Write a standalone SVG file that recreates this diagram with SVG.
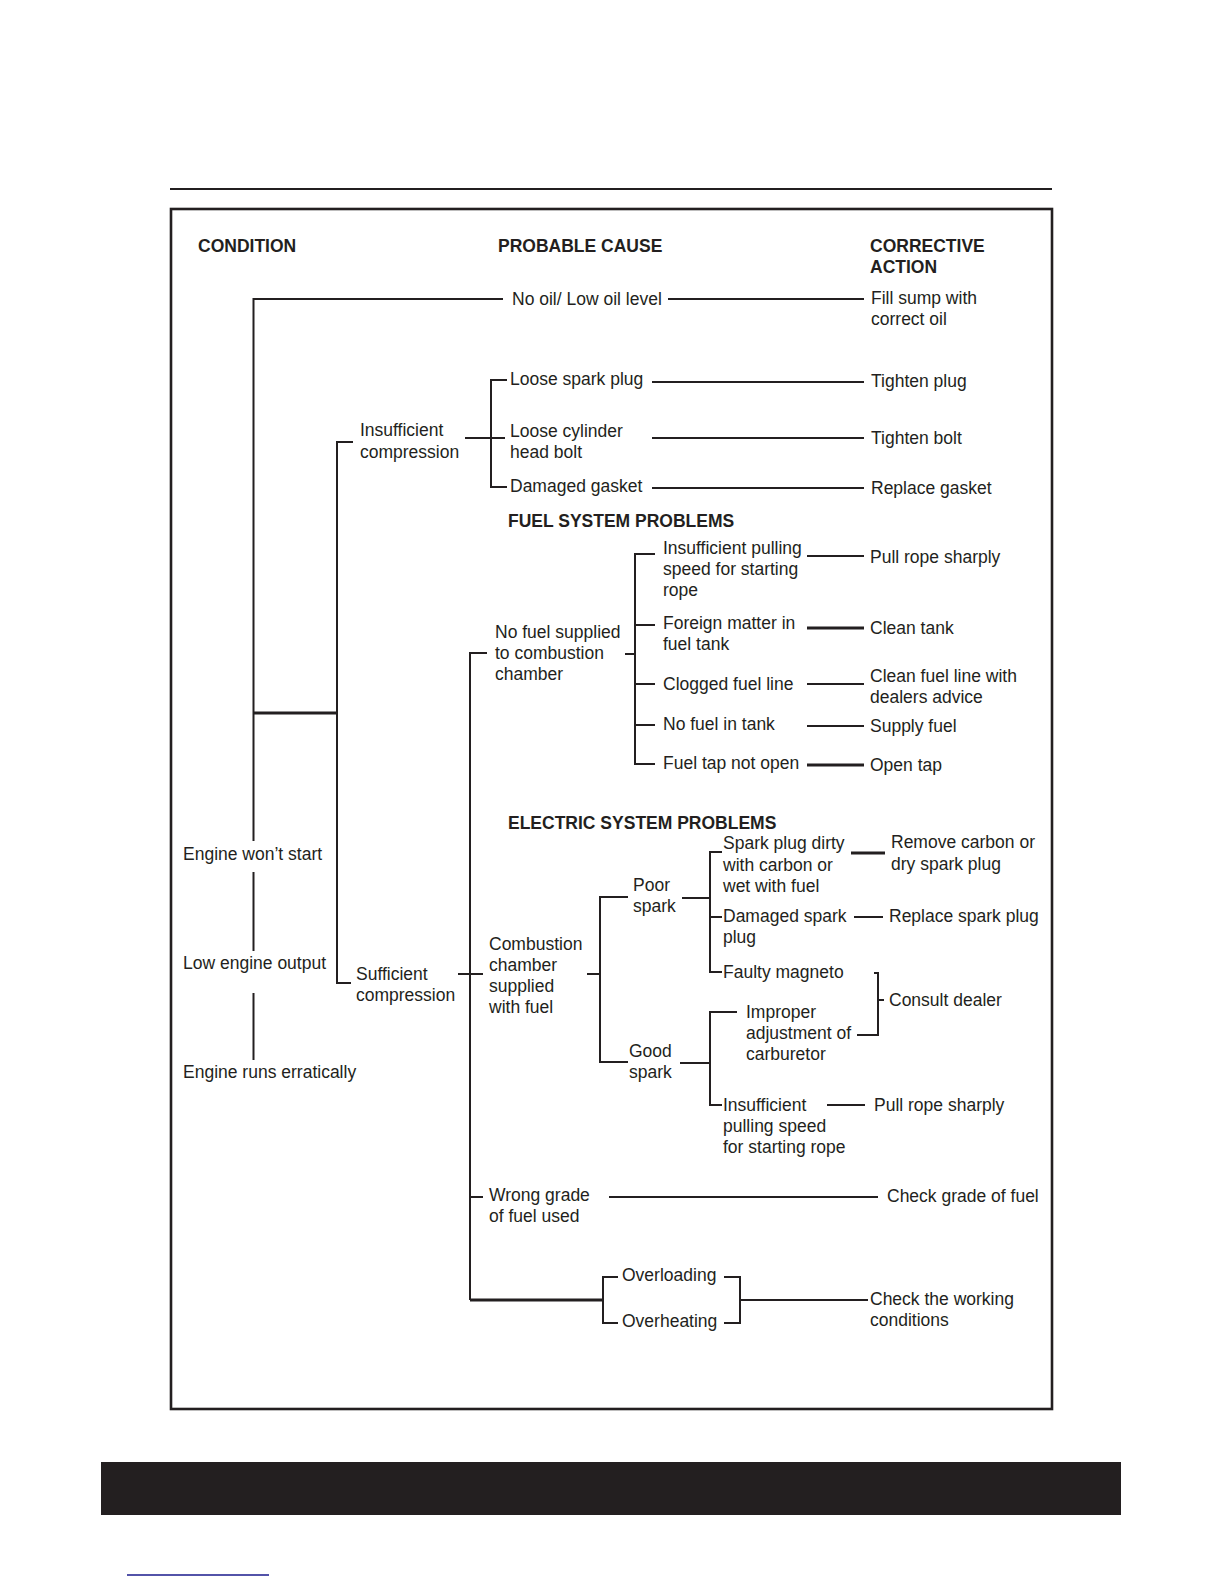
<svg xmlns="http://www.w3.org/2000/svg" width="1224" height="1584" viewBox="0 0 1224 1584">
<style>
text{font-family:"Liberation Sans",Arial,Helvetica,sans-serif;font-size:17.5px;fill:#231f20}
.h{font-weight:bold}
.c line,.c polyline{stroke:#231f20;stroke-width:2;fill:none}
.c .t{stroke-width:3}
</style>
<rect width="1224" height="1584" fill="#fff"/>
<g id="frame">
<line x1="170" y1="189" x2="1052" y2="189" stroke="#231f20" stroke-width="2.2"/>
<rect x="171" y="209" width="881" height="1200" fill="none" stroke="#231f20" stroke-width="2.6"/>
<rect x="101" y="1462" width="1020" height="53" fill="#231f20"/>
<line x1="127" y1="1575" x2="269" y2="1575" stroke="#1a1a8c" stroke-width="1.5"/>
</g>
<g id="headers">
<text class="h" x="198" y="252">CONDITION</text>
<text class="h" x="498" y="252">PROBABLE CAUSE</text>
<text class="h" x="870" y="252">CORRECTIVE</text>
<text class="h" x="870" y="273">ACTION</text>
<text class="h" x="508" y="527">FUEL SYSTEM PROBLEMS</text>
<text class="h" x="508" y="829">ELECTRIC SYSTEM PROBLEMS</text>
</g>
<g class="c" id="connectors">
<polyline points="503,299 253.5,299 253.5,841"/>
<line x1="253.5" y1="872" x2="253.5" y2="951"/>
<line x1="253.5" y1="993" x2="253.5" y2="1060"/>
<line class="t" x1="253.5" y1="713" x2="337" y2="713"/>
<polyline points="353,442 337,442 337,983 351,983"/>
<line x1="668" y1="299" x2="864" y2="299"/>
<polyline points="507,380 491,380 491,487 507,487"/>
<line x1="465" y1="438" x2="505" y2="438"/>
<line x1="652" y1="382" x2="864" y2="382"/>
<line x1="652" y1="438" x2="864" y2="438"/>
<line x1="652" y1="488" x2="864" y2="488"/>
<line x1="458" y1="974" x2="483" y2="974"/>
<polyline points="487,653 470,653 470,1300"/>
<line x1="470" y1="1197" x2="483" y2="1197"/>
<line class="t" x1="470" y1="1300" x2="603" y2="1300"/>
<polyline points="618,1277 603,1277 603,1323 618,1323"/>
<polyline points="724,1277 740,1277 740,1323 724,1323"/>
<line x1="740" y1="1300" x2="868" y2="1300"/>
<line x1="609" y1="1197" x2="878" y2="1197"/>
<line x1="625" y1="654" x2="635" y2="654"/>
<polyline points="655,554 635,554 635,764 655,764"/>
<line x1="635" y1="625" x2="655" y2="625"/>
<line x1="635" y1="684" x2="655" y2="684"/>
<line x1="635" y1="725" x2="655" y2="725"/>
<line x1="807" y1="556" x2="864" y2="556"/>
<line class="t" x1="807" y1="628" x2="864" y2="628"/>
<line x1="807" y1="684" x2="864" y2="684"/>
<line x1="807" y1="726" x2="864" y2="726"/>
<line class="t" x1="807" y1="765" x2="864" y2="765"/>
<line x1="587" y1="974" x2="600" y2="974"/>
<polyline points="628,897 600,897 600,1062 628,1062"/>
<line x1="682" y1="898" x2="710" y2="898"/>
<polyline points="722,852 710,852 710,972 722,972"/>
<line x1="710" y1="917" x2="722" y2="917"/>
<line class="t" x1="851" y1="853" x2="885" y2="853"/>
<line x1="854" y1="917" x2="883" y2="917"/>
<polyline points="874,973 878,973 878,1035 857,1035"/>
<line x1="878" y1="1000" x2="884" y2="1000"/>
<line x1="680" y1="1063" x2="710" y2="1063"/>
<polyline points="737,1012 710,1012 710,1105 722,1105"/>
<line x1="827" y1="1105" x2="865" y2="1105"/>
</g>
<g id="n-engine-wont-start"><text x="183" y="860">Engine won’t start</text></g>
<g id="n-low-engine-output"><text x="183" y="969">Low engine output</text></g>
<g id="n-engine-runs-erratically"><text x="183" y="1078">Engine runs erratically</text></g>
<g id="n-no-oil"><text x="512" y="305">No oil/ Low oil level</text></g>
<g id="n-fill-sump"><text x="871" y="304">Fill sump with</text><text x="871" y="325">correct oil</text></g>
<g id="n-insufficient-compression"><text x="360" y="436">Insufficient</text><text x="360" y="458">compression</text></g>
<g id="n-loose-spark-plug"><text x="510" y="385">Loose spark plug</text></g>
<g id="n-tighten-plug"><text x="871" y="387">Tighten plug</text></g>
<g id="n-loose-cylinder"><text x="510" y="437">Loose cylinder</text><text x="510" y="458">head bolt</text></g>
<g id="n-tighten-bolt"><text x="871" y="444">Tighten bolt</text></g>
<g id="n-damaged-gasket"><text x="510" y="492">Damaged gasket</text></g>
<g id="n-replace-gasket"><text x="871" y="494">Replace gasket</text></g>
<g id="n-no-fuel-supplied"><text x="495" y="638">No fuel supplied</text><text x="495" y="659">to combustion</text><text x="495" y="680">chamber</text></g>
<g id="n-insufficient-pulling"><text x="663" y="554">Insufficient pulling</text><text x="663" y="575">speed for starting</text><text x="663" y="596">rope</text></g>
<g id="n-pull-rope-1"><text x="870" y="563">Pull rope sharply</text></g>
<g id="n-foreign-matter"><text x="663" y="629">Foreign matter in</text><text x="663" y="650">fuel tank</text></g>
<g id="n-clean-tank"><text x="870" y="634">Clean tank</text></g>
<g id="n-clogged"><text x="663" y="690">Clogged fuel line</text></g>
<g id="n-clean-fuel-line"><text x="870" y="682">Clean fuel line with</text><text x="870" y="703">dealers advice</text></g>
<g id="n-no-fuel-tank"><text x="663" y="730">No fuel in tank</text></g>
<g id="n-supply-fuel"><text x="870" y="732">Supply fuel</text></g>
<g id="n-fuel-tap"><text x="663" y="769">Fuel tap not open</text></g>
<g id="n-open-tap"><text x="870" y="771">Open tap</text></g>
<g id="n-sufficient-compression"><text x="356" y="980">Sufficient</text><text x="356" y="1001">compression</text></g>
<g id="n-combustion"><text x="489" y="950">Combustion</text><text x="489" y="971">chamber</text><text x="489" y="992">supplied</text><text x="489" y="1013">with fuel</text></g>
<g id="n-poor-spark"><text x="633" y="891">Poor</text><text x="633" y="912">spark</text></g>
<g id="n-spark-dirty"><text x="723" y="849">Spark plug dirty</text><text x="723" y="871">with carbon or</text><text x="723" y="892">wet with fuel</text></g>
<g id="n-remove-carbon"><text x="891" y="848">Remove carbon or</text><text x="891" y="870">dry spark plug</text></g>
<g id="n-damaged-spark"><text x="723" y="922">Damaged spark</text><text x="723" y="943">plug</text></g>
<g id="n-replace-spark"><text x="889" y="922">Replace spark plug</text></g>
<g id="n-faulty-magneto"><text x="723" y="978">Faulty magneto</text></g>
<g id="n-consult-dealer"><text x="889" y="1006">Consult dealer</text></g>
<g id="n-good-spark"><text x="629" y="1057">Good</text><text x="629" y="1078">spark</text></g>
<g id="n-improper"><text x="746" y="1018">Improper</text><text x="746" y="1039">adjustment of</text><text x="746" y="1060">carburetor</text></g>
<g id="n-insufficient-pulling-2"><text x="723" y="1111">Insufficient</text><text x="723" y="1132">pulling speed</text><text x="723" y="1153">for starting rope</text></g>
<g id="n-pull-rope-2"><text x="874" y="1111">Pull rope sharply</text></g>
<g id="n-wrong-grade"><text x="489" y="1201">Wrong grade</text><text x="489" y="1222">of fuel used</text></g>
<g id="n-check-grade"><text x="887" y="1202">Check grade of fuel</text></g>
<g id="n-overloading"><text x="622" y="1281">Overloading</text></g>
<g id="n-overheating"><text x="622" y="1327">Overheating</text></g>
<g id="n-check-working"><text x="870" y="1305">Check the working</text><text x="870" y="1326">conditions</text></g>
</svg>
